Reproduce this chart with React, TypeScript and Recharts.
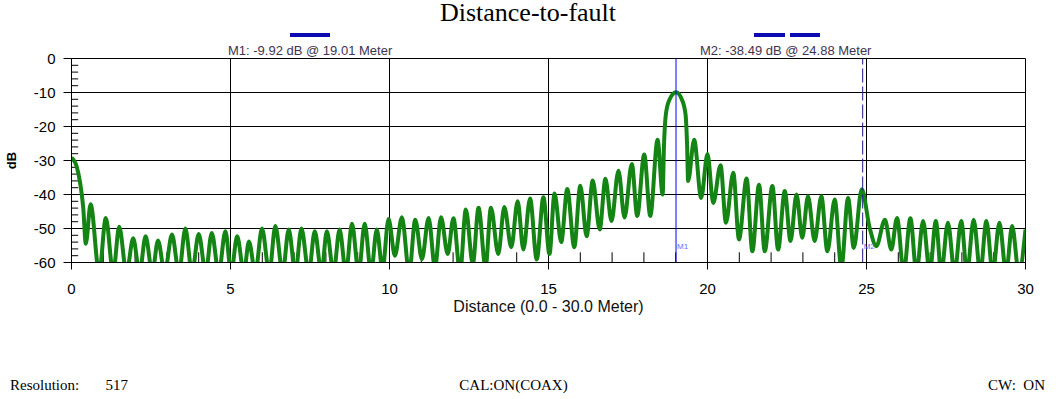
import { CartesianGrid, Line, LineChart, ReferenceLine, XAxis, YAxis } from "recharts"

// distance (m) and return level (dB): one point per lobe peak / null
const distance = [
  0.0, 0.16, 0.27, 0.37, 0.45, 0.6, 0.87, 1.08, 1.31, 1.5, 1.73, 1.94, 2.14, 2.33, 2.54, 2.72, 2.93, 3.16, 3.38, 3.58,
  3.79, 4.0, 4.22, 4.41, 4.63, 4.84, 5.02, 5.21, 5.42, 5.58, 5.78, 5.99, 6.22, 6.41, 6.64, 6.83, 7.04, 7.23, 7.46, 7.65,
  7.86, 8.03, 8.24, 8.43, 8.63, 8.82, 9.03, 9.22, 9.42, 9.6, 9.78, 9.97, 10.17, 10.39, 10.62, 10.81, 11.02, 11.23, 11.43, 11.62,
  11.83, 12.01, 12.22, 12.4, 12.62, 12.8, 13.02, 13.19, 13.42, 13.61, 13.83, 14.03, 14.21, 14.42, 14.63, 14.84, 15.03, 15.19, 15.4, 15.59,
  15.81, 16.0, 16.2, 16.39, 16.61, 16.79, 16.98, 17.2, 17.39, 17.62, 17.79, 18.01, 18.2, 18.43, 18.59, 18.63, 18.69, 18.8, 19.01, 19.2,
  19.31, 19.36, 19.39, 19.58, 19.8, 20.0, 20.18, 20.41, 20.58, 20.81, 20.99, 21.23, 21.41, 21.62, 21.8, 22.04, 22.22, 22.43, 22.61, 22.8,
  22.98, 23.16, 23.37, 23.58, 23.77, 24.0, 24.21, 24.42, 24.6, 24.85, 25.1, 25.31, 25.58, 25.78, 25.96, 26.17, 26.38, 26.57, 26.78, 26.99,
  27.18, 27.35, 27.56, 27.77, 27.98, 28.16, 28.37, 28.58, 28.77, 28.97, 29.18, 29.39, 29.58, 29.79, 30.0,
]
const level = [
  -29.2, -31.7, -36.5, -44, -54.5, -42.9, -63, -46.9, -63, -49.5, -63, -52.9, -63, -52.3, -63, -53.5, -63, -51.8, -63, -50,
  -63, -51.6, -63, -51.3, -63, -50.8, -63, -52.3, -63, -53.8, -63, -50, -63, -49.3, -63, -50.3, -63, -50, -63, -50.8,
  -63, -50.8, -63, -50.3, -63, -48.6, -63, -48.6, -63, -50.3, -62, -47.2, -58, -46.7, -63, -47.4, -59, -46.9, -61.5, -46.7,
  -57.5, -47, -63, -44.4, -60.5, -43.9, -61.5, -43.9, -57.5, -43.7, -55.5, -42, -56.2, -41.2, -59.1, -40.8, -57.5, -39.7, -54, -38.4,
  -55.5, -37.4, -52.3, -35.9, -50.3, -35.4, -47.8, -33, -46.8, -31, -46.3, -28.2, -46.3, -23.9, -40, -26, -16.5, -12.2, -9.92, -12.2,
  -16.5, -26, -36, -23.9, -41, -28.1, -42.5, -31.4, -48.3, -33.6, -53.2, -35.3, -56.7, -37.1, -56.7, -37.5, -56.2, -39, -53.7, -40,
  -52.7, -40.5, -53.7, -40.5, -56.7, -41.5, -61.5, -41, -55.7, -38.49, -49.8, -55.2, -47.4, -56.2, -46.9, -63, -47, -63, -47.8, -63,
  -47.8, -63, -48.3, -63, -47.8, -63, -47.4, -63, -47.8, -63, -48.3, -63, -49.3, -63, -50.3,
]

const distTicks = [0, 5, 10, 15, 20, 25, 30]
const dbTicks = [0, -10, -20, -30, -40, -50, -60]
const minorDistTicks = [1, 2, 3, 4, 6, 7, 8, 9, 11, 12, 13, 14, 16, 17, 18, 19, 21, 22, 23, 24, 26, 27, 28, 29]
const minorDbTicks = [-2, -4, -6, -8, -12, -14, -16, -18, -22, -24, -26, -28, -32, -34, -36, -38, -42, -44, -46, -48, -52, -54, -56, -58]

const markerNames = ["M1", "M2"]
const markerDist = [19.01, 24.88]
const markerDb = [-9.92, -38.49]

const data = distance.map((d, i) => ({ d, db: level[i] }))

const sans = "'Liberation Sans', Arial, sans-serif"
const serif = "'Liberation Serif', 'Times New Roman', serif"

const MarkerTag = ({ viewBox, text }: any) => {
  if (!viewBox) return null
  return (
    <text x={viewBox.x + 1} y={viewBox.y + viewBox.height - 14} fontSize={8} fill="#6b6bff" fontFamily={sans}>
      {text}
    </text>
  )
}

const markerLabel = (i: number) =>
  `${markerNames[i]}: ${markerDb[i].toFixed(2)} dB @ ${markerDist[i].toFixed(2)} Meter`

export default function App() {
  return (
    <div style={{ position: "absolute", left: 0, top: 0, width: 1056, height: 399, background: "#fff" }}>
      <div style={{ position: "absolute", left: 0, top: 0, width: 1056, textAlign: "center", fontFamily: serif, fontSize: 26, lineHeight: "26px", color: "#000" }}>
        Distance-to-fault
      </div>

      <div style={{ position: "absolute", left: 290, top: 33, width: 40, height: 4, background: "#0b0bb0" }} />
      <div style={{ position: "absolute", left: 754, top: 33, width: 31, height: 4, background: "#0b0bb0" }} />
      <div style={{ position: "absolute", left: 790, top: 33, width: 30, height: 4, background: "#0b0bb0" }} />

      <div style={{ position: "absolute", left: 228, top: 43, fontFamily: sans, fontSize: 13, lineHeight: "15px", color: "#3e3450", whiteSpace: "pre" }}>
        {markerLabel(0)}
      </div>
      <div style={{ position: "absolute", left: 700, top: 43, fontFamily: sans, fontSize: 13, lineHeight: "15px", color: "#3e3450", whiteSpace: "pre" }}>
        {markerLabel(1)}
      </div>

      <LineChart width={1056} height={399} data={data} margin={{ top: 58.5, right: 30.5, bottom: 106.5, left: 0 }}>
        <CartesianGrid stroke="#000" strokeWidth={1} />
        <XAxis
          dataKey="d"
          type="number"
          domain={[0, 30]}
          ticks={distTicks}
          interval={0}
          allowDataOverflow
          height={30}
          tickSize={7}
          tickMargin={14}
          axisLine={{ stroke: "#000" }}
          tickLine={{ stroke: "#000" }}
          tick={{ fill: "#000", fontSize: 15, fontFamily: sans }}
        />
        <YAxis
          type="number"
          domain={[-60, 0]}
          ticks={dbTicks}
          interval={0}
          allowDataOverflow
          width={71.5}
          tickSize={8}
          tickMargin={8}
          axisLine={{ stroke: "#000" }}
          tickLine={{ stroke: "#000" }}
          tick={{ fill: "#000", fontSize: 15, fontFamily: sans }}
        />
        {minorDistTicks.map((t) => (
          <ReferenceLine key={"mx" + t} segment={[{ x: t, y: -60 }, { x: t, y: -57 }]} stroke="#000" strokeWidth={1} />
        ))}
        {minorDbTicks.map((t) => (
          <ReferenceLine key={"my" + t} segment={[{ x: 0, y: t }, { x: 0.21, y: t }]} stroke="#000" strokeWidth={1} />
        ))}
        <Line
          type="monotone"
          dataKey="db"
          stroke="#148414"
          strokeWidth={4}
          strokeLinejoin="round"
          dot={false}
          activeDot={false}
          isAnimationActive={false}
        />
        <ReferenceLine x={markerDist[0]} stroke="#0000ff" strokeWidth={1} label={<MarkerTag text={markerNames[0]} />} />
        <ReferenceLine
          x={markerDist[1]}
          stroke="#1c1c8c"
          strokeWidth={1}
          strokeDasharray="14 4"
          label={<MarkerTag text={markerNames[1]} />}
        />
      </LineChart>

      <div style={{ position: "absolute", left: 4, top: 152, width: 16, height: 16, display: "flex", alignItems: "center", justifyContent: "center" }}>
        <span style={{ transform: "rotate(-90deg)", fontFamily: sans, fontSize: 13, fontWeight: "bold", color: "#000", whiteSpace: "nowrap" }}>dB</span>
      </div>
      <div style={{ position: "absolute", left: 71, width: 955, top: 298, textAlign: "center", fontFamily: sans, fontSize: 16, lineHeight: "18px", color: "#111" }}>
        Distance (0.0 - 30.0 Meter)
      </div>

      <div style={{ position: "absolute", left: 10, top: 376, fontFamily: serif, fontSize: 15, lineHeight: "18px", whiteSpace: "pre" }}>
        {"Resolution:       517"}
      </div>
      <div style={{ position: "absolute", left: 0, width: 1027, top: 376, textAlign: "center", fontFamily: serif, fontSize: 15, lineHeight: "18px" }}>
        CAL:ON(COAX)
      </div>
      <div style={{ position: "absolute", right: 11, top: 376, fontFamily: serif, fontSize: 15, lineHeight: "18px", whiteSpace: "pre" }}>
        {"CW:  ON"}
      </div>
    </div>
  )
}
